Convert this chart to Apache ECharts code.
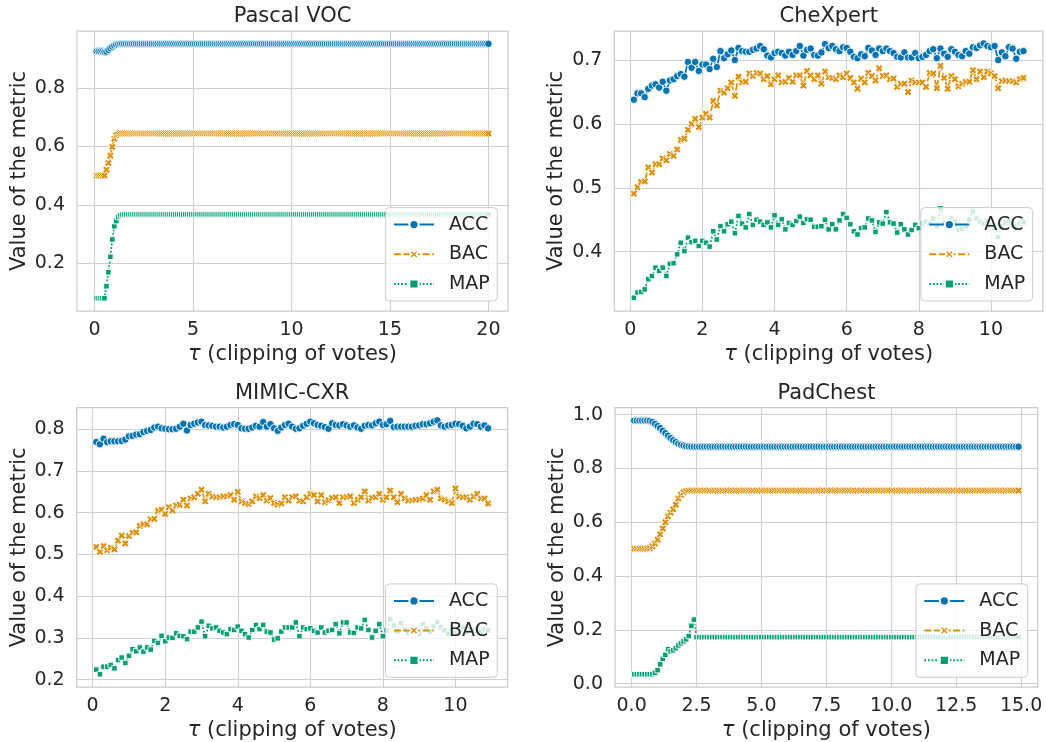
<!DOCTYPE html>
<html><head><meta charset="utf-8">
<script src="https://cdn.jsdelivr.net/npm/echarts@6/dist/echarts.min.js"></script>
<style>html,body{margin:0;padding:0;background:#fff}#c{width:1046px;height:742px}</style>
</head><body><div id="c"></div>
<script>
// ---------- data ----------
const metricNames = ['ACC', 'BAC', 'MAP'];
const panelTitles = ['Pascal VOC', 'CheXpert', 'MIMIC-CXR', 'PadChest'];
const tauStep = 0.1;

// Pascal VOC: 200 points (tau = 0.1 .. 20.0); early values then a flat plateau
const pascalCount = 200;
const pascalAccHead = [0.925,0.925,0.925,0.925,0.923,0.924,0.930,0.936,0.941,0.945,0.948,0.950];
const pascalAccPlateau = 0.951;
const pascalBacHead = [0.5,0.5,0.5,0.5,0.5,0.52,0.543,0.568,0.598,0.626,0.638,0.642];
const pascalBacPlateau = 0.644;
const pascalMapHead = [0.08,0.08,0.08,0.08,0.08,0.121,0.169,0.222,0.281,0.326,0.344,0.358,0.364,0.366];
const pascalMapPlateau = 0.367;

// CheXpert: 109 points (tau = 0.1 .. 10.9)
const chexAcc = [0.638,0.648,0.648,0.642,0.655,0.660,0.662,0.657,0.666,0.652,
0.668,0.670,0.675,0.678,0.674,0.697,0.688,0.697,0.683,0.693,
0.693,0.686,0.702,0.689,0.714,0.703,0.709,0.715,0.700,0.719,
0.714,0.713,0.713,0.716,0.718,0.722,0.717,0.707,0.704,0.711,
0.713,0.711,0.707,0.713,0.708,0.714,0.722,0.707,0.716,0.718,
0.708,0.707,0.712,0.725,0.719,0.722,0.717,0.714,0.720,0.719,
0.713,0.705,0.703,0.709,0.706,0.719,0.715,0.708,0.718,0.714,
0.718,0.714,0.711,0.705,0.704,0.712,0.704,0.704,0.711,0.703,
0.705,0.708,0.714,0.717,0.703,0.718,0.710,0.705,0.717,0.713,
0.708,0.706,0.714,0.710,0.720,0.719,0.723,0.726,0.722,0.720,
0.722,0.700,0.712,0.706,0.720,0.718,0.702,0.713,0.714];
const chexBac = [0.491,0.501,0.509,0.510,0.532,0.524,0.537,0.537,0.546,0.543,
0.553,0.550,0.560,0.575,0.577,0.591,0.600,0.608,0.595,0.610,
0.616,0.610,0.636,0.629,0.652,0.649,0.656,0.665,0.644,0.674,
0.665,0.666,0.679,0.675,0.680,0.679,0.670,0.675,0.662,0.670,
0.676,0.665,0.666,0.672,0.666,0.676,0.676,0.660,0.683,0.676,
0.670,0.676,0.663,0.682,0.673,0.672,0.670,0.676,0.673,0.679,
0.672,0.665,0.655,0.671,0.665,0.680,0.675,0.668,0.687,0.675,
0.676,0.670,0.671,0.658,0.663,0.663,0.650,0.668,0.665,0.665,
0.665,0.658,0.680,0.679,0.656,0.691,0.672,0.655,0.675,0.670,
0.659,0.663,0.666,0.666,0.684,0.670,0.682,0.673,0.682,0.679,
0.675,0.656,0.667,0.668,0.667,0.667,0.665,0.670,0.672];
const chexMap = [0.328,0.336,0.337,0.341,0.357,0.362,0.375,0.370,0.375,0.362,
0.381,0.382,0.396,0.414,0.401,0.422,0.415,0.417,0.409,0.417,
0.414,0.408,0.432,0.419,0.440,0.432,0.443,0.447,0.429,0.456,
0.444,0.438,0.459,0.442,0.450,0.447,0.442,0.446,0.438,0.457,
0.442,0.451,0.435,0.445,0.442,0.448,0.455,0.445,0.451,0.450,
0.439,0.439,0.440,0.450,0.435,0.443,0.435,0.449,0.459,0.453,
0.443,0.432,0.427,0.437,0.438,0.452,0.449,0.431,0.446,0.444,
0.462,0.446,0.444,0.430,0.443,0.435,0.427,0.434,0.442,0.437,
0.444,0.447,0.444,0.452,0.440,0.468,0.445,0.438,0.452,0.447,
0.434,0.436,0.440,0.450,0.463,0.452,0.447,0.444,0.448,0.441,
0.438,0.423,0.440,0.445,0.448,0.441,0.440,0.444,0.446];

// MIMIC-CXR: 109 points (tau = 0.1 .. 10.9)
const mimicAcc = [0.769,0.764,0.777,0.769,0.771,0.771,0.771,0.772,0.775,0.783,
0.784,0.787,0.788,0.793,0.796,0.798,0.804,0.806,0.802,0.801,
0.800,0.800,0.801,0.806,0.813,0.797,0.810,0.813,0.816,0.818,
0.810,0.809,0.808,0.806,0.806,0.804,0.806,0.810,0.812,0.810,
0.802,0.801,0.801,0.804,0.808,0.806,0.817,0.806,0.812,0.802,
0.796,0.804,0.810,0.813,0.806,0.801,0.802,0.808,0.813,0.818,
0.814,0.810,0.808,0.805,0.801,0.814,0.810,0.809,0.812,0.809,
0.806,0.809,0.804,0.801,0.808,0.810,0.809,0.814,0.818,0.810,
0.812,0.820,0.805,0.806,0.806,0.806,0.806,0.806,0.808,0.809,
0.812,0.812,0.814,0.818,0.821,0.809,0.806,0.809,0.810,0.813,
0.812,0.808,0.802,0.806,0.813,0.812,0.806,0.809,0.802];
const mimicBac = [0.518,0.506,0.520,0.510,0.516,0.512,0.533,0.545,0.526,0.544,
0.552,0.553,0.568,0.572,0.572,0.584,0.585,0.604,0.607,0.597,
0.613,0.605,0.617,0.619,0.631,0.617,0.634,0.637,0.645,0.655,
0.627,0.645,0.639,0.637,0.637,0.639,0.639,0.642,0.631,0.650,
0.627,0.623,0.621,0.627,0.639,0.635,0.642,0.629,0.635,0.623,
0.619,0.622,0.637,0.629,0.637,0.639,0.629,0.627,0.637,0.645,
0.642,0.627,0.642,0.625,0.630,0.635,0.637,0.623,0.637,0.637,
0.639,0.623,0.631,0.637,0.651,0.629,0.635,0.637,0.645,0.631,
0.637,0.653,0.637,0.625,0.645,0.634,0.629,0.629,0.631,0.631,
0.634,0.642,0.631,0.651,0.655,0.634,0.631,0.627,0.623,0.658,
0.639,0.637,0.637,0.631,0.639,0.645,0.634,0.634,0.622];
const mimicMap = [0.224,0.213,0.231,0.231,0.235,0.227,0.247,0.253,0.240,0.257,
0.273,0.268,0.277,0.267,0.277,0.272,0.293,0.288,0.305,0.292,
0.301,0.300,0.311,0.305,0.304,0.297,0.315,0.315,0.325,0.339,
0.304,0.329,0.323,0.325,0.317,0.313,0.309,0.321,0.319,0.327,
0.317,0.309,0.301,0.319,0.331,0.321,0.331,0.315,0.313,0.296,
0.299,0.315,0.325,0.325,0.325,0.337,0.304,0.325,0.321,0.323,
0.317,0.313,0.325,0.313,0.317,0.319,0.333,0.311,0.337,0.337,
0.313,0.312,0.325,0.323,0.343,0.319,0.301,0.317,0.333,0.304,
0.318,0.345,0.330,0.315,0.335,0.320,0.312,0.325,0.318,0.310,
0.333,0.322,0.315,0.328,0.338,0.325,0.318,0.310,0.322,0.313,
0.320,0.325,0.315,0.320,0.318,0.322,0.315,0.320,0.318];

// PadChest: 149 points (tau = 0.1 .. 14.9); early values then a flat plateau
const padCount = 149;
const padAccHead = [0.978,0.978,0.978,0.978,0.978,0.978,0.977,0.973,0.966,0.958,0.950,0.940,0.931,0.922,0.913,0.905,0.898,0.892,0.888,0.885,0.883,0.882];
const padAccPlateau = 0.881;
const padBacHead = [0.502,0.502,0.502,0.502,0.502,0.502,0.503,0.510,0.521,0.535,0.555,0.577,0.600,0.622,0.636,0.648,0.665,0.688,0.702,0.711,0.716];
const padBacPlateau = 0.718;
const padMapHead = [0.035,0.035,0.035,0.035,0.035,0.035,0.035,0.035,0.040,0.050,0.072,0.092,0.107,0.128,0.120,0.124,0.132,0.142,0.150,0.157,0.165,0.177,0.215,0.238];
const padMapPlateau = 0.173;

// tick labels
const xTicks = [[0,5,10,15,20],[0,2,4,6,8,10],[0,2,4,6,8,10],[0,2.5,5,7.5,10,12.5,15]];
const yTicks = [[0.2,0.4,0.6,0.8],[0.4,0.5,0.6,0.7],[0.2,0.3,0.4,0.5,0.6,0.7,0.8],[0,0.2,0.4,0.6,0.8,1.0]];
const xDecimals = [0,0,0,1];
const yDecimals = [1,1,1,1];

// ---------- build ----------
function withPlateau(head, plateau, count) {
  const out = head.slice();
  while (out.length < count) out.push(plateau);
  return out;
}
function tauGrid(n) { const t = []; for (let i = 1; i <= n; i++) t.push(+(i * tauStep).toFixed(1)); return t; }

const panels = [
  [withPlateau(pascalAccHead, pascalAccPlateau, pascalCount), withPlateau(pascalBacHead, pascalBacPlateau, pascalCount), withPlateau(pascalMapHead, pascalMapPlateau, pascalCount)],
  [chexAcc, chexBac, chexMap],
  [mimicAcc, mimicBac, mimicMap],
  [withPlateau(padAccHead, padAccPlateau, padCount), withPlateau(padBacHead, padBacPlateau, padCount), withPlateau(padMapHead, padMapPlateau, padCount)]
];

const FONT = 'DejaVu Sans';
const TXT = '#262626';
const GRIDC = '#d0d0d0';
const colors = ['#0173b2', '#de8f05', '#029e73'];
const symbols = ['circle', 'path://M0,2.6 L2.6,0 L5,2.4 L7.4,0 L10,2.6 L7.6,5 L10,7.4 L7.4,10 L5,7.6 L2.6,10 L0,7.4 L2.4,5 Z', 'rect'];
const symSizes = [7.5, 7.5, 5.5];
const lineTypes = ['solid', [7, 2.6], [1.8, 1.8]];

const gridsPos = [
  {left: 77, top: 31, width: 431, height: 280},
  {left: 614.4, top: 31, width: 428.5, height: 280},
  {left: 76.7, top: 407.7, width: 431, height: 280},
  {left: 615, top: 407.7, width: 422.7, height: 280}
];
const xRange = [[-0.895, 20.995], [-0.44, 11.44], [-0.44, 11.44], [-0.64, 15.64]];
const yRange = [[0.0364, 0.9946], [0.3072, 0.7455], [0.1824, 0.8514], [-0.0125, 1.026]];
const titleCenter = [[292.5, 6], [828.7, 6], [292.2, 383.5], [826.4, 383.5]];
const legendPos = [[548.7, 441], [13.3, 441], [548.7, 64.7], [18.3, 64.7]];

const option = {
  animation: false,
  backgroundColor: '#ffffff',
  title: panelTitles.map((t, i) => ({
    text: t, left: titleCenter[i][0], top: titleCenter[i][1], textAlign: 'center', padding: 0,
    textStyle: {fontFamily: FONT, fontSize: 21, fontWeight: 'normal', color: TXT}
  })),
  grid: gridsPos.map(g => Object.assign({show: true, borderColor: '#cccccc', borderWidth: 1.25, backgroundColor: '#ffffff', containLabel: false}, g)),
  xAxis: gridsPos.map((g, i) => ({
    type: 'value', gridIndex: i, min: xRange[i][0], max: xRange[i][1],
    name: '{t|τ} (clipping of votes)', nameLocation: 'middle', nameGap: 33,
    nameTextStyle: {fontFamily: FONT, fontSize: 21, color: TXT,
      rich: {t: {fontFamily: FONT, fontSize: 21, fontStyle: 'italic', color: TXT}}},
    axisLine: {show: false}, axisTick: {show: false, customValues: xTicks[i]},
    axisLabel: {customValues: xTicks[i], margin: 10, fontFamily: FONT, fontSize: 19, color: TXT,
      formatter: v => (+v).toFixed(xDecimals[i])},
    splitLine: {show: true, lineStyle: {color: GRIDC, width: 1.1}}
  })),
  yAxis: gridsPos.map((g, i) => ({
    type: 'value', gridIndex: i, min: yRange[i][0], max: yRange[i][1],
    name: 'Value of the metric', nameLocation: 'middle', nameGap: 47,
    nameTextStyle: {fontFamily: FONT, fontSize: 21, color: TXT},
    axisLine: {show: false}, axisTick: {show: false, customValues: yTicks[i]},
    axisLabel: {customValues: yTicks[i], margin: 12, fontFamily: FONT, fontSize: 19, color: TXT,
      formatter: v => (+v).toFixed(yDecimals[i])},
    splitLine: {show: true, lineStyle: {color: GRIDC, width: 1.1}}
  })),
  legend: legendPos.map(p => ({
    orient: 'vertical', right: p[0], bottom: p[1], data: metricNames,
    itemWidth: 40, itemHeight: 11.5, itemGap: 10.7, padding: 7.5,
    backgroundColor: 'rgba(255,255,255,0.8)', borderColor: '#cccccc', borderWidth: 1, borderRadius: 4,
    selectedMode: false, z: 10,
    textStyle: {fontFamily: FONT, fontSize: 19, color: TXT, padding: [0, 0, 0, 10], lineHeight: 19}
  })),
  series: []
};

panels.forEach((vals, gi) => {
  const tau = tauGrid(vals[0].length);
  vals.forEach((ys, mi) => {
    option.series.push({
      type: 'line', name: metricNames[mi], xAxisIndex: gi, yAxisIndex: gi,
      data: tau.map((t, k) => [t, ys[k]]),
      symbol: symbols[mi], symbolSize: symSizes[mi], showSymbol: true, showAllSymbol: true,
      lineStyle: {color: colors[mi], width: 1.75, type: lineTypes[mi], cap: 'butt'},
      itemStyle: {color: colors[mi], borderColor: '#ffffff', borderWidth: 0.9},
      emphasis: {disabled: true}, silent: true, z: 2 + mi
    });
  });
});

const chart = echarts.init(document.getElementById('c'), null, {renderer: 'canvas'});
chart.setOption(option);
</script></body></html>
